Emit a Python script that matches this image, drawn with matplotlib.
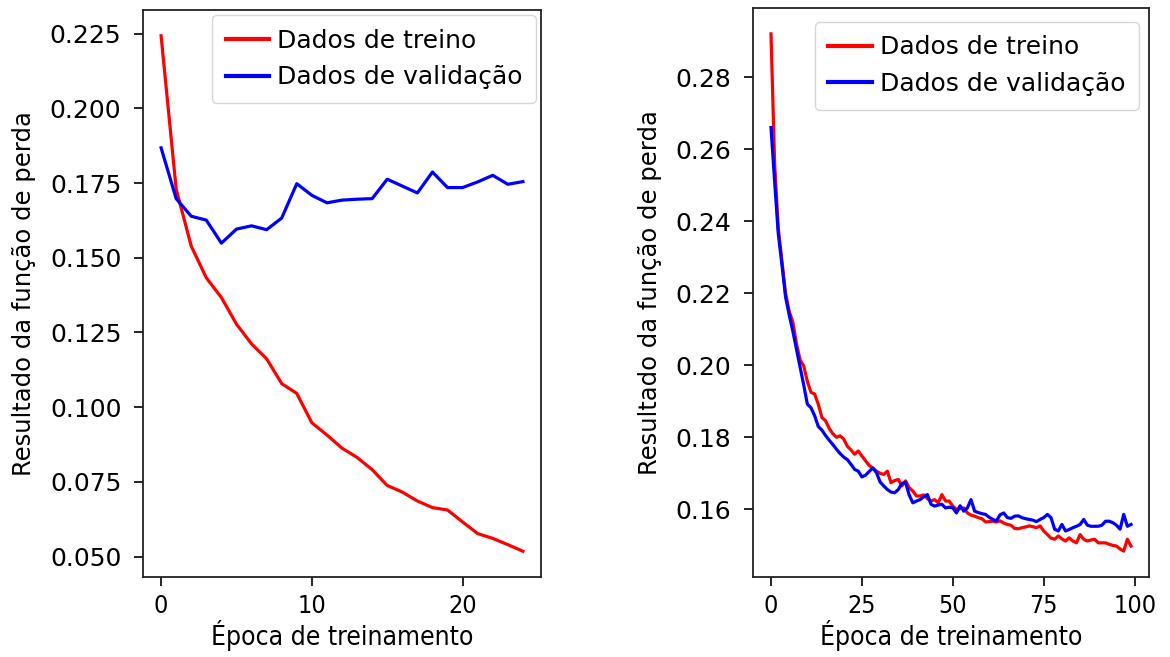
import matplotlib
matplotlib.use("Agg")
import matplotlib.pyplot as plt
import numpy as np

# Left chart: 25 epochs
train_left = [0.2243, 0.173, 0.1539, 0.1433, 0.1367, 0.1278, 0.1212, 0.1162, 0.1079, 0.1046,
              0.0948, 0.0907, 0.0863, 0.0832, 0.0791, 0.0738, 0.0716, 0.0686, 0.0664, 0.0656,
              0.0616, 0.0577, 0.0561, 0.0540, 0.0518]
val_left = [0.1868, 0.1698, 0.1639, 0.1626, 0.1549, 0.1596, 0.1607, 0.1594, 0.1633, 0.1748,
            0.1709, 0.1684, 0.1693, 0.1696, 0.1698, 0.1763, 0.1740, 0.1717, 0.1787, 0.1735,
            0.1735, 0.1754, 0.1776, 0.1746, 0.1755]

# Right chart: 100 epochs
train_right = [0.292, 0.256, 0.238, 0.229, 0.220, 0.215, 0.212, 0.206, 0.2015, 0.1998,
               0.1955, 0.1925, 0.1920, 0.1892, 0.1855, 0.1846, 0.1825, 0.1810, 0.1800, 0.1804,
               0.1795, 0.1775, 0.1765, 0.1753, 0.1762, 0.1748, 0.1735, 0.1722, 0.1714, 0.1706,
               0.1700, 0.1697, 0.1706, 0.1674, 0.1680, 0.1683, 0.1665, 0.1679, 0.1660, 0.1651,
               0.1637, 0.1637, 0.1640, 0.1630, 0.1623, 0.1627, 0.1618, 0.1641, 0.1623, 0.1623,
               0.1609, 0.1600, 0.1602, 0.1604, 0.1590, 0.1584, 0.1581, 0.1577, 0.1574, 0.1565,
               0.1566, 0.1567, 0.1565, 0.1568, 0.1562, 0.1558, 0.1556, 0.1547, 0.1546, 0.1549,
               0.1551, 0.1554, 0.1552, 0.1549, 0.1554, 0.1540, 0.1530, 0.1520, 0.1517, 0.1526,
               0.1518, 0.1512, 0.1521, 0.1512, 0.1507, 0.1530, 0.1517, 0.1512, 0.1515, 0.1517,
               0.1507, 0.1507, 0.1507, 0.1503, 0.1500, 0.1498, 0.1490, 0.1484, 0.1517, 0.1498]
val_right = [0.266, 0.251, 0.2365, 0.228, 0.219, 0.214, 0.2095, 0.2045, 0.1995, 0.1945,
             0.1892, 0.1882, 0.1860, 0.1830, 0.1820, 0.1805, 0.1792, 0.1780, 0.1767, 0.1755,
             0.1745, 0.1738, 0.1725, 0.1711, 0.1706, 0.1690, 0.1695, 0.1705, 0.1715, 0.1702,
             0.1676, 0.1665, 0.1655, 0.1648, 0.1646, 0.1655, 0.1672, 0.1675, 0.1640, 0.1618,
             0.1623, 0.1627, 0.1635, 0.1641, 0.1614, 0.1609, 0.1612, 0.1614, 0.1604, 0.1606,
             0.1604, 0.1590, 0.1610, 0.1595, 0.1604, 0.1627, 0.1595, 0.1591, 0.1588, 0.1586,
             0.1578, 0.1572, 0.1568, 0.1585, 0.1590, 0.1577, 0.1575, 0.1581, 0.1582, 0.1577,
             0.1574, 0.1572, 0.1570, 0.1566, 0.1572, 0.1577, 0.1586, 0.1577, 0.1545, 0.1540,
             0.1558, 0.1540, 0.1544, 0.1549, 0.1553, 0.1558, 0.1572, 0.1556, 0.1553, 0.1553,
             0.1553, 0.1556, 0.1567, 0.1567, 0.1563, 0.1556, 0.1545, 0.1586, 0.1553, 0.1558]

label_train = "Dados de treino"
label_val = "Dados de validação"
xlabel = "Época de treinamento"
ylabel = "Resultado da função de perda"

plt.rcParams['font.family'] = ['DejaVu Sans']

fig = plt.figure(figsize=(11.7, 6.57), dpi=100)
axL = fig.add_axes([143/1170, 80/657, 398/1170, 567/657])
axR = fig.add_axes([753/1170, 80/657, 396/1170, 569/657])

legend_anchor = {axL: (1.0, 1.0), axR: (0.987, 0.985)}

for ax, tr, va in ((axL, train_left, val_left), (axR, train_right, val_right)):
    ep = np.arange(len(tr))
    ax.plot(ep, tr, color='#ff0000', lw=2.3, label=label_train)
    ax.plot(ep, va, color='#0000ff', lw=2.3, label=label_val)
    ax.set_xlabel(xlabel, fontsize=19, fontstretch='condensed', labelpad=1)
    ax.set_ylabel(ylabel, fontsize=17.5, labelpad=10)
    ax.tick_params(axis='y', labelsize=18, length=6.5, width=1.2, pad=9)
    ax.tick_params(axis='x', length=6.5, width=1.2, pad=6)
    for s in ax.spines.values():
        s.set_linewidth(1.3)
        s.set_color('#222222')
    leg = ax.legend(loc='upper right', bbox_to_anchor=legend_anchor[ax], fontsize=18,
                    frameon=True, fancybox=True, handlelength=1.75, handletextpad=0.3,
                    borderpad=0.55, labelspacing=0.5, borderaxespad=0.2)
    leg.get_frame().set_edgecolor('#cccccc')
    for h in leg.get_lines():
        h.set_linewidth(3.0)

axL.set_xticks([0, 10, 20])
axL.set_yticks([0.050, 0.075, 0.100, 0.125, 0.150, 0.175, 0.200, 0.225])
axL.yaxis.set_major_formatter(matplotlib.ticker.FormatStrFormatter('%.3f'))
axR.set_xticks([0, 25, 50, 75, 100])
axR.set_yticks([0.16, 0.18, 0.20, 0.22, 0.24, 0.26, 0.28])
axR.yaxis.set_major_formatter(matplotlib.ticker.FormatStrFormatter('%.2f'))

for ax in (axL, axR):
    for lab in ax.get_xticklabels():
        lab.set_fontsize(18)
        lab.set_fontstretch('condensed')

fig.savefig("out.png", dpi=100)
